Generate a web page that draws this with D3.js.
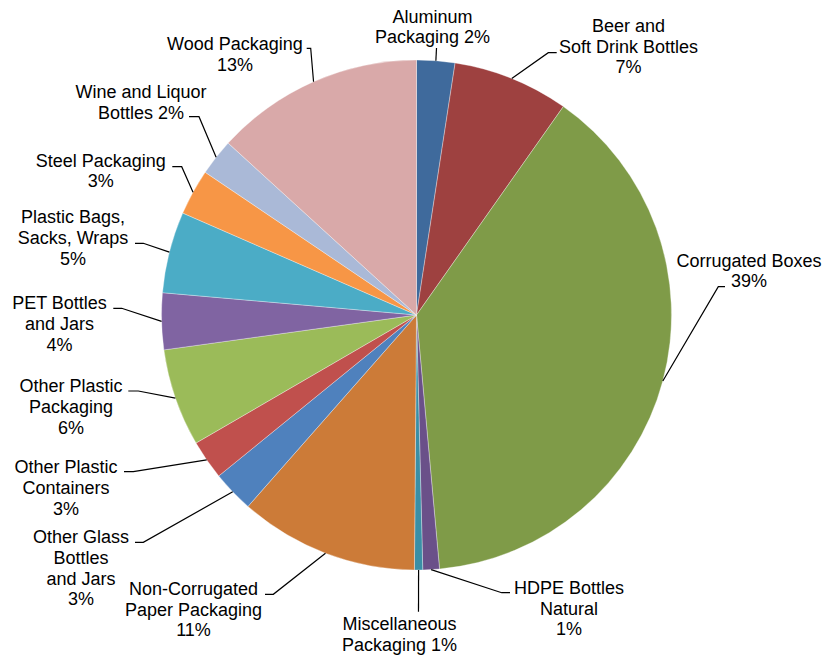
<!DOCTYPE html>
<html>
<head>
<meta charset="utf-8">
<script src="https://cdn.jsdelivr.net/npm/d3@7"></script>
<style>
  html, body { margin: 0; padding: 0; background: #fff; }
  svg { display: block; }
  text { font-family: "Liberation Sans", Arial, sans-serif; font-size: 18px; fill: #000; }
</style>
</head>
<body>
<script>
// ---- data ----
const categories = [
  "Aluminum Packaging", "Beer and Soft Drink Bottles", "Corrugated Boxes",
  "HDPE Bottles Natural", "Miscellaneous Packaging", "Non-Corrugated Paper Packaging",
  "Other Glass Bottles and Jars", "Other Plastic Containers", "Other Plastic Packaging",
  "PET Bottles and Jars", "Plastic Bags, Sacks, Wraps", "Steel Packaging",
  "Wine and Liquor Bottles", "Wood Packaging"
];
const values = [2.42, 7.35, 38.8, 1.05, 0.52, 11.36, 2.64, 2.5, 6.19, 3.58, 5.15, 2.91, 2.32, 13.23];
const labelLines = [
  ["Aluminum", "Packaging 2%"],
  ["Beer and", "Soft Drink Bottles", "7%"],
  ["Corrugated Boxes", "39%"],
  ["HDPE Bottles", "Natural", "1%"],
  ["Miscellaneous", "Packaging 1%"],
  ["Non-Corrugated", "Paper Packaging", "11%"],
  ["Other Glass", "Bottles", "and Jars", "3%"],
  ["Other Plastic", "Containers", "3%"],
  ["Other Plastic", "Packaging", "6%"],
  ["PET Bottles", "and Jars", "4%"],
  ["Plastic Bags,", "Sacks, Wraps", "5%"],
  ["Steel Packaging", "3%"],
  ["Wine and Liquor", "Bottles 2%"],
  ["Wood Packaging", "13%"]
];

// ---- style / layout ----
const colors = ["#3F6A9C", "#9E4140", "#7F9B48", "#6A5089", "#3A8FA6", "#CC7B38",
  "#4F81BD", "#C0504D", "#9BBB59", "#8064A2", "#4BACC6", "#F79646", "#AAB9D7", "#D9A9A9"];
const W = 825, H = 658, cx = 416.5, cy = 315, R = 255, lineH = 20.7;
// label layout: text centre x, first baseline y, elbow point, end point of leader
const labelLayout = [
  { x: 432.5, y: 22.7, elbow: [436.5, 48], end: [436.5, 48] },
  { x: 628.5, y: 32, elbow: [548.3, 52.7], end: [556.7, 52.7] },
  { x: 749, y: 266.7, elbow: [718.3, 286.7], end: [725, 286.7] },
  { x: 569, y: 594, elbow: [501.7, 592.7], end: [510, 592.7] },
  { x: 399.5, y: 630, elbow: [418.5, 611.7], end: [418.5, 611.7] },
  { x: 193.5, y: 595, elbow: [273.3, 594.3], end: [265, 594.3] },
  { x: 81, y: 543.3, elbow: [143.3, 542.3], end: [135, 542.3] },
  { x: 66, y: 473.3, elbow: [133.3, 471.7], end: [124, 471.7] },
  { x: 71, y: 392.3, elbow: [138.3, 391], end: [128.3, 391] },
  { x: 59.5, y: 309.3, elbow: [121.7, 308.3], end: [113.3, 308.3] },
  { x: 73, y: 223.3, elbow: [143.3, 243.3], end: [135, 243.3] },
  { x: 100.7, y: 166.7, elbow: [181.7, 166.7], end: [172.3, 166.7] },
  { x: 141, y: 98.3, elbow: [199, 116.7], end: [189, 116.7] },
  { x: 235, y: 50, elbow: [310.7, 48.3], end: [306.7, 48.3] }
];

const svg = d3.select("body").append("svg").attr("width", W).attr("height", H);

const pie = d3.pie().sort(null).value(d => d)(values);
const arc = d3.arc().innerRadius(0).outerRadius(R);
const edge = d3.arc().innerRadius(R).outerRadius(R);

const g = svg.append("g").attr("transform", `translate(${cx},${cy})`);
g.selectAll("path.slice").data(pie).join("path")
  .attr("class", "slice")
  .attr("d", arc)
  .attr("fill", (d, i) => colors[i])
  .attr("stroke", "#ffffff")
  .attr("stroke-opacity", 0.55)
  .attr("stroke-width", 0.6);

// leader lines
const line = d3.line();
svg.append("g").selectAll("path.leader").data(pie).join("path")
  .attr("class", "leader")
  .attr("d", (d, i) => {
    const c = edge.centroid(d);
    const L = labelLayout[i];
    return line([[cx + c[0], cy + c[1]], L.elbow, L.end]);
  })
  .attr("fill", "none")
  .attr("stroke", "#000")
  .attr("stroke-width", 1.2);

// labels
const lg = svg.append("g");
labelLines.forEach((lines, i) => {
  const L = labelLayout[i];
  const t = lg.append("text").attr("text-anchor", "middle");
  lines.forEach((s, k) => {
    t.append("tspan").attr("x", L.x).attr("y", L.y + k * lineH).text(s);
  });
});
</script>
</body>
</html>
